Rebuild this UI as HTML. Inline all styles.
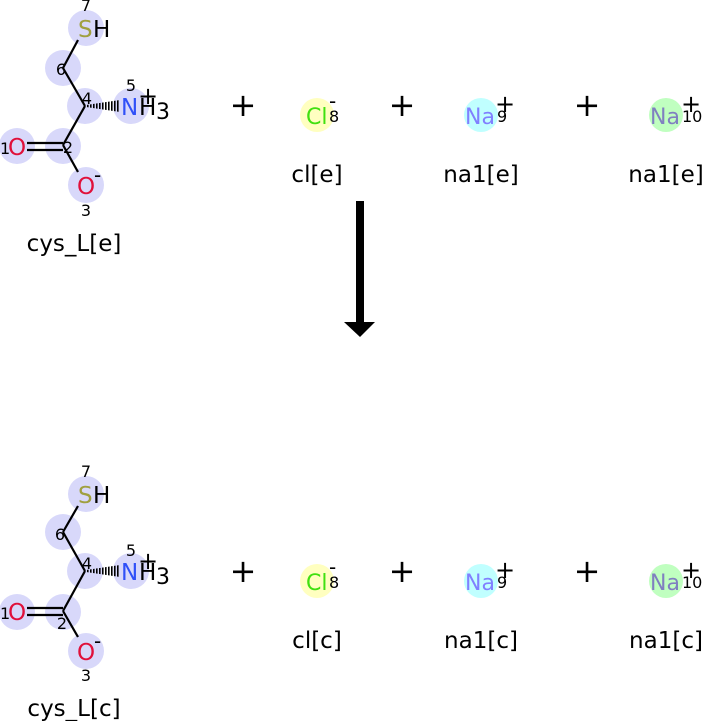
<!DOCTYPE html>
<html><head><meta charset="utf-8"><style>
html,body{margin:0;padding:0;background:#fff}
svg{display:block}
text{font-family:"DejaVu Sans","Liberation Sans",sans-serif}
</style></head><body>
<svg width="703" height="721" viewBox="0 0 703 721" xmlns="http://www.w3.org/2000/svg">
<defs>
<pattern id="h" width="3" height="10" patternUnits="userSpaceOnUse"><rect width="1.6" height="10" fill="#000"/></pattern>
</defs>

<!-- TOP MOLECULE -->
<g>
<g fill="#d8d8fa">
<circle cx="86" cy="28" r="18"/><circle cx="63" cy="68" r="18"/><circle cx="85" cy="106" r="18"/>
<circle cx="131" cy="106" r="18"/><circle cx="17" cy="146" r="18"/><circle cx="63" cy="146" r="18"/>
<circle cx="86" cy="185" r="18"/>
</g>
<g stroke="#000" stroke-width="2.2" fill="none">
<line x1="78" y1="40" x2="63" y2="68"/><line x1="63" y1="68" x2="85" y2="106"/>
<line x1="85" y1="106" x2="63" y2="145"/><line x1="63" y1="145" x2="78" y2="172"/>
<line x1="27" y1="143" x2="63" y2="143"/><line x1="27" y1="150" x2="63" y2="150"/>
</g>
<polygon points="86,105 120,100 120,112 86,107" fill="url(#h)"/>
<text x="86" y="11" font-size="16" text-anchor="middle" fill="#000">7</text>
<text x="78" y="37" font-size="23" fill="#a0a040">S</text><text x="93" y="37" font-size="23" fill="#000">H</text>
<text x="61" y="75" font-size="16" text-anchor="middle" fill="#000">6</text>
<text x="87" y="104" font-size="16" text-anchor="middle" fill="#000">4</text>
<text x="131" y="91" font-size="16" text-anchor="middle" fill="#000">5</text>
<text x="121" y="115" font-size="23" fill="#3050f8">N</text><text x="139" y="115" font-size="23" fill="#000">H</text>
<text x="156" y="119" font-size="22" fill="#000">3</text>
<text x="138" y="104" font-size="24" fill="#000">+</text>
<text x="0" y="154" font-size="16" fill="#000">1</text><text x="8" y="155" font-size="23" fill="#e0103a">O</text>
<text x="68" y="153" font-size="16" text-anchor="middle" fill="#000">2</text>
<text x="77" y="194" font-size="23" fill="#e0103a">O</text><text x="94" y="182" font-size="20" fill="#000">-</text>
<text x="86" y="216" font-size="16" text-anchor="middle" fill="#000">3</text>
<text x="74" y="251" font-size="23" text-anchor="middle" fill="#000">cys_L[e]</text>
</g>

<!-- TOP IONS -->
<g>
<text x="243" y="116" font-size="32" text-anchor="middle">+</text>
<text x="402" y="116" font-size="32" text-anchor="middle">+</text>
<text x="587" y="116" font-size="32" text-anchor="middle">+</text>
<circle cx="317" cy="115" r="17" fill="#ffffc0"/>
<circle cx="481" cy="115" r="17" fill="#c0ffff"/>
<circle cx="666" cy="115" r="17" fill="#c0ffc0"/>
<text x="306" y="124" font-size="22" fill="#40e010">Cl</text><text x="329" y="122" font-size="16">8</text><text x="329" y="108" font-size="20">-</text>
<text x="465" y="124" font-size="22" fill="#8080ff">Na</text><text x="497" y="122" font-size="16">9</text><text x="495" y="112" font-size="24">+</text>
<text x="650" y="124" font-size="22" fill="#8080c0">Na</text><text x="682" y="122" font-size="16">10</text><text x="681" y="112" font-size="24">+</text>
<text x="317" y="182" font-size="23" text-anchor="middle">cl[e]</text>
<text x="481" y="182" font-size="23" text-anchor="middle">na1[e]</text>
<text x="666" y="182" font-size="23" text-anchor="middle">na1[e]</text>
</g>

<!-- ARROW -->
<rect x="356" y="201" width="8" height="122" fill="#000"/>
<polygon points="344,322 375,322 360,337" fill="#000"/>

<!-- BOTTOM MOLECULE -->
<g>
<g fill="#d8d8fa">
<circle cx="86" cy="494" r="18"/><circle cx="63" cy="532" r="18"/><circle cx="85" cy="571" r="18"/>
<circle cx="131" cy="571" r="18"/><circle cx="17" cy="612" r="18"/><circle cx="63" cy="612" r="18"/>
<circle cx="86" cy="651" r="18"/>
</g>
<g stroke="#000" stroke-width="2.2" fill="none">
<line x1="78" y1="506" x2="63" y2="532"/><line x1="63" y1="532" x2="85" y2="571"/>
<line x1="85" y1="571" x2="63" y2="611"/><line x1="63" y1="611" x2="78" y2="637"/>
<line x1="27" y1="608" x2="63" y2="608"/><line x1="27" y1="615" x2="63" y2="615"/>
</g>
<polygon points="86,570 120,565 120,577 86,572" fill="url(#h)"/>
<text x="86" y="477" font-size="16" text-anchor="middle">7</text>
<text x="78" y="503" font-size="23" fill="#a0a040">S</text><text x="93" y="503" font-size="23">H</text>
<text x="60" y="540" font-size="16" text-anchor="middle">6</text>
<text x="87" y="569" font-size="16" text-anchor="middle">4</text>
<text x="131" y="556" font-size="16" text-anchor="middle">5</text>
<text x="121" y="580" font-size="23" fill="#3050f8">N</text><text x="139" y="580" font-size="23">H</text>
<text x="156" y="584" font-size="22">3</text>
<text x="138" y="569" font-size="24">+</text>
<text x="0" y="619" font-size="16">1</text><text x="8" y="620" font-size="23" fill="#e0103a">O</text>
<text x="62" y="629" font-size="16" text-anchor="middle">2</text>
<text x="77" y="660" font-size="23" fill="#e0103a">O</text><text x="94" y="648" font-size="20">-</text>
<text x="86" y="681" font-size="16" text-anchor="middle">3</text>
<text x="74" y="716" font-size="23" text-anchor="middle">cys_L[c]</text>
</g>

<!-- BOTTOM IONS -->
<g>
<text x="243" y="582" font-size="32" text-anchor="middle">+</text>
<text x="402" y="582" font-size="32" text-anchor="middle">+</text>
<text x="587" y="582" font-size="32" text-anchor="middle">+</text>
<circle cx="317" cy="581" r="17" fill="#ffffc0"/>
<circle cx="481" cy="581" r="17" fill="#c0ffff"/>
<circle cx="666" cy="581" r="17" fill="#c0ffc0"/>
<text x="306" y="590" font-size="22" fill="#40e010">Cl</text><text x="329" y="588" font-size="16">8</text><text x="329" y="574" font-size="20">-</text>
<text x="465" y="590" font-size="22" fill="#8080ff">Na</text><text x="497" y="588" font-size="16">9</text><text x="495" y="578" font-size="24">+</text>
<text x="650" y="590" font-size="22" fill="#8080c0">Na</text><text x="682" y="588" font-size="16">10</text><text x="681" y="578" font-size="24">+</text>
<text x="317" y="648" font-size="23" text-anchor="middle">cl[c]</text>
<text x="481" y="648" font-size="23" text-anchor="middle">na1[c]</text>
<text x="666" y="648" font-size="23" text-anchor="middle">na1[c]</text>
</g>
</svg>
</body></html>
